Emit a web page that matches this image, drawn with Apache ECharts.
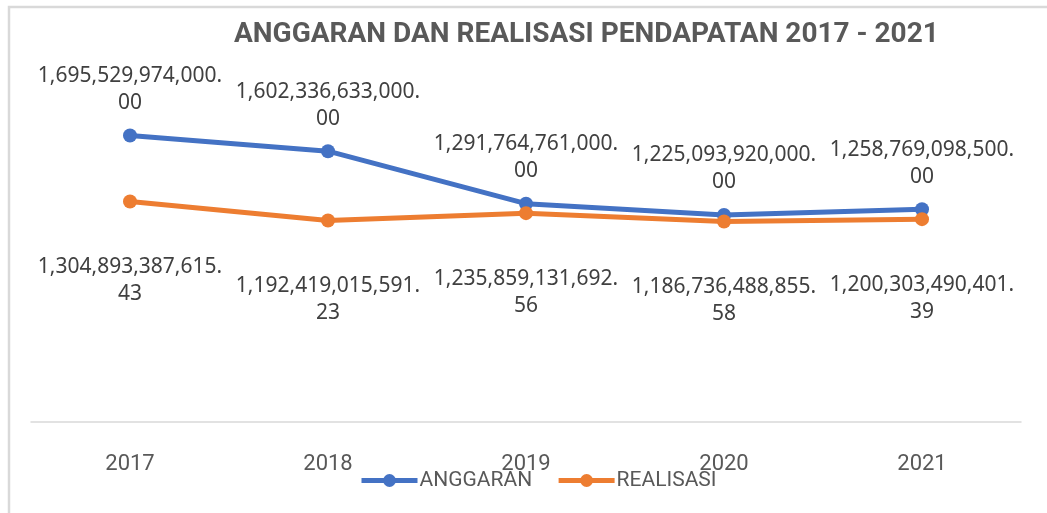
<!DOCTYPE html>
<html>
<head>
<meta charset="utf-8">
<title>Anggaran dan Realisasi Pendapatan</title>
<script src="https://cdn.jsdelivr.net/npm/echarts@6/dist/echarts.min.js"></script>
<style>
  html, body { margin: 0; padding: 0; background: #fff; }
  #chart { width: 1047px; height: 513px; }
</style>
</head>
<body>
<div id="chart"></div>
<script>
const years = ['2017', '2018', '2019', '2020', '2021']
const anggaran = [1695529974000.00, 1602336633000.00, 1291764761000.00, 1225093920000.00, 1258769098500.00]
const realisasi = [1304893387615.43, 1192419015591.23, 1235859131692.56, 1186736488855.58, 1200303490401.39]

const narrow = '"Liberation Sans Narrow", "Roboto", sans-serif'
const fmt = new Intl.NumberFormat('en-US', { minimumFractionDigits: 2, maximumFractionDigits: 2 })
const labelText = p => fmt.format(p.value).replace('.', '.\n')

const chart = echarts.init(document.getElementById('chart'))

chart.setOption({
  animation: false,
  title: {
    text: 'ANGGARAN DAN REALISASI PENDAPATAN 2017 - 2021',
    left: 229,
    top: 16,
    textStyle: {
      fontFamily: narrow,
      fontWeight: 'bold',
      fontSize: 28,
      color: '#595959'
    }
  },
  graphic: [{
    type: 'rect',
    shape: { x: 9, y: 7, width: 1100, height: 600 },
    style: { fill: 'none', stroke: '#d9d9d9', lineWidth: 2.5 },
    silent: true
  }],
  legend: {
    bottom: 17,
    left: 354,
    itemWidth: 56,
    itemHeight: 16,
    itemGap: 24,
    lineStyle: { width: 5 },
    textStyle: { fontFamily: narrow, fontSize: 21, color: '#595959', padding: [0, 0, 0, -3] },
    data: ['ANGGARAN', 'REALISASI']
  },
  grid: { left: 31, right: 26, top: 84, bottom: 91 },
  xAxis: {
    type: 'category',
    data: years,
    axisLine: { lineStyle: { color: '#d9d9d9', width: 1.5 } },
    axisTick: { show: false },
    axisLabel: { margin: 31, fontFamily: narrow, fontSize: 22, color: '#595959' }
  },
  yAxis: {
    type: 'value',
    min: 0,
    max: 2000000000000,
    show: false,
    splitLine: { show: false }
  },
  series: [
    {
      name: 'ANGGARAN',
      type: 'line',
      data: anggaran,
      symbol: 'circle',
      symbolSize: 14,
      color: '#4472c4',
      lineStyle: { width: 5 },
      label: {
        show: true,
        position: 'top',
        distance: 12,
        formatter: labelText,
        fontFamily: '"Noto Sans", sans-serif',
        fontSize: 21,
        lineHeight: 27,
        color: '#404040'
      }
    },
    {
      name: 'REALISASI',
      type: 'line',
      data: realisasi,
      symbol: 'circle',
      symbolSize: 14,
      color: '#ed7d31',
      lineStyle: { width: 5 },
      label: {
        show: true,
        position: 'bottom',
        distance: 45,
        formatter: labelText,
        fontFamily: '"Noto Sans", sans-serif',
        fontSize: 21,
        lineHeight: 27,
        color: '#404040'
      }
    }
  ]
})
</script>
</body>
</html>
